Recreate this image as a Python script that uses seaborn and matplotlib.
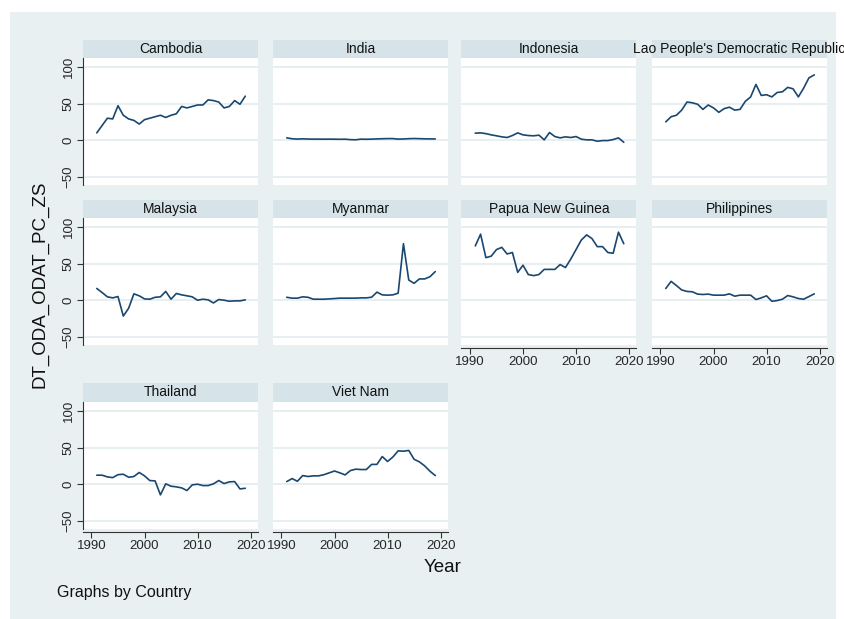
# ODA received per capita (DT_ODA_ODAT_PC_ZS), small multiples by country
# Stata-style "by(Country)" layout redrawn with seaborn line plots

import pandas as pd
import seaborn as sns
import matplotlib.pyplot as plt
from matplotlib.patches import Rectangle

# Data (1991-2019)
years = list(range(1991, 2020))
cambodia = [10, 20, 30, 29, 47, 34, 29, 27, 22, 28, 30, 32, 34, 31, 34, 36, 46, 44, 46, 48,
            48, 55, 54, 52, 44, 46, 54, 49, 60]
india = [3.2, 2.0, 1.6, 1.9, 1.6, 1.5, 1.5, 1.4, 1.5, 1.4, 1.3, 1.4, 0.8, 0.6, 1.5, 1.3,
         1.5, 1.8, 2.0, 2.2, 2.2, 1.5, 1.7, 2.1, 2.3, 2.1, 1.9, 1.8, 1.7]
indonesia = [9.6, 10, 9, 7.3, 6, 4.6, 3.7, 6.4, 10, 7.3, 6.4, 6, 6.9, 0.5, 10.5, 5, 3.2,
             4.6, 3.7, 5, 1.4, 0.5, 0.5, -1.4, -0.5, -0.5, 0.9, 3.2, -2.8]
lao = [25, 32, 34, 41, 52, 51, 49, 42, 48, 44, 38, 43, 45, 41, 42, 53, 59, 76, 61, 62,
       59, 65, 66, 72, 70, 59, 71, 85, 89]
malaysia = [16, 10.5, 4.6, 3.2, 5, -21.6, -11, 8.7, 6, 1.8, 1.4, 4, 4.6, 12, 1.4, 9.2, 7.3,
            6, 4.6, 0, 1.4, 0.5, -3.7, 0.9, 0, -1.4, -0.9, -0.9, 0.5]
myanmar = [4, 2.8, 2.8, 4.6, 4, 1.4, 1.4, 1.4, 1.8, 2.3, 2.8, 2.8, 2.8, 2.8, 3.2, 3.2, 4.1,
           11, 7.3, 6.9, 7.3, 9.6, 77, 27.5, 23, 29, 29, 32, 39]
png = [74, 90, 58, 60, 69, 72, 63, 65, 38, 47.7, 35, 33.5, 35, 42, 42, 42, 48.6, 44.5, 56,
       69, 82, 89, 84, 73, 73, 65, 64, 92.7, 77]
philippines = [16, 25.7, 20, 14, 12, 11.5, 8.3, 7.8, 8.3, 6.9, 6.9, 6.9, 8.7, 5.5, 6.9, 6.9,
               6.9, 0.9, 3.2, 6, -1.4, -0.5, 1.4, 6.4, 4.6, 2.3, 1.4, 5, 8.7]
thailand = [12.3, 12.3, 10, 9, 13, 13.6, 9.5, 10.5, 16, 11.4, 5, 4.5, -14.5, 0.5, -2.7,
            -3.6, -5, -8.6, -0.9, 0, -1.8, -1.8, 0.5, 5, 0.9, 3.2, 3.6, -6.4, -5.5]
vietnam = [3.6, 7.7, 4, 11.8, 10.5, 11.4, 11.4, 13, 15.5, 18, 15.5, 12.7, 18.6, 20.5, 20, 20,
           27, 27, 37.7, 31, 37, 45.5, 45, 46, 34, 30.5, 25, 17.7, 11.8]

countries = ["Cambodia", "India", "Indonesia", "Lao People's Democratic Republic",
             "Malaysia", "Myanmar", "Papua New Guinea", "Philippines",
             "Thailand", "Viet Nam"]
series = [cambodia, india, indonesia, lao, malaysia, myanmar, png, philippines,
          thailand, vietnam]

df = pd.concat([pd.DataFrame({"Country": c, "Year": years, "DT_ODA_ODAT_PC_ZS": v})
                for c, v in zip(countries, series)], ignore_index=True)

# Styling
sns.set_style("white")
plt.rcParams["font.family"] = ["Liberation Sans", "DejaVu Sans"]

bg = "#E8F0F1"
strip = "#D6E3E8"
navy = "#1A476F"
axis_col = "#333333"

W, H = 845, 619
fig = plt.figure(figsize=(W / 100, H / 100), dpi=100)
# light graph region behind everything (white margin at top/left/right)
fig.add_artist(Rectangle((10 / W, 0), 826 / W, (H - 12) / H, transform=fig.transFigure,
                         facecolor=bg, edgecolor="none", zorder=-10))

col_left = [83, 273, 461.5, 652]
panel_w = 175
strip_top = [40, 200, 383]
plot_top = [58, 218, 402]
plot_h = 127
with_xaxis = {"Papua New Guinea", "Philippines", "Thailand", "Viet Nam"}

for i, country in enumerate(countries):
    r, c = divmod(i, 4)
    x0 = col_left[c]

    # header strip
    sax = fig.add_axes([x0 / W, 1 - plot_top[r] / H, panel_w / W,
                        (plot_top[r] - strip_top[r]) / H])
    sax.set_facecolor(strip)
    sax.set_xticks([])
    sax.set_yticks([])
    for s in sax.spines.values():
        s.set_visible(False)
    sax.text(0.5, 0.5, country, ha="center", va="center", fontsize=10,
             color="#111111", clip_on=False)

    # plot panel
    ax = fig.add_axes([x0 / W, 1 - (plot_top[r] + plot_h) / H, panel_w / W, plot_h / H])
    ax.set_facecolor("white")
    sns.lineplot(data=df[df["Country"] == country], x="Year", y="DT_ODA_ODAT_PC_ZS",
                 ax=ax, color=navy, linewidth=1.2)
    ax.set_xlim(1988.4, 2021.4)
    ax.set_ylim(-61, 112)
    ax.set_xticks([1990, 2000, 2010, 2020])
    ax.set_yticks([-50, 0, 50, 100])
    ax.grid(axis="y", color="#E6EEF0", linewidth=1.3)
    ax.grid(axis="x", visible=False)
    ax.set_xlabel("")
    ax.set_ylabel("")
    ax.spines["top"].set_visible(False)
    ax.spines["right"].set_visible(False)

    if c == 0:
        ax.spines["left"].set_color(axis_col)
        ax.spines["left"].set_linewidth(0.8)
        ax.tick_params(axis="y", left=True, length=4, width=0.8, color=axis_col,
                       labelsize=9.5, labelrotation=90, pad=2)
        for lab in ax.get_yticklabels():
            lab.set_va("center")
    else:
        ax.spines["left"].set_visible(False)
        ax.tick_params(axis="y", left=False, labelleft=False)

    if country in with_xaxis:
        ax.spines["bottom"].set_color(axis_col)
        ax.spines["bottom"].set_linewidth(0.8)
        ax.spines["bottom"].set_position(("outward", 2))
        ax.tick_params(axis="x", bottom=True, length=4, width=0.8, color=axis_col,
                       labelsize=9.5, pad=2)
    else:
        ax.spines["bottom"].set_visible(False)
        ax.tick_params(axis="x", bottom=False, labelbottom=False)

# Figure-level labels
fig.text(40 / W, 1 - 284 / H, "DT_ODA_ODAT_PC_ZS", rotation=90, ha="center", va="center",
         fontsize=13.5, color="#111111")
fig.text(443 / W, 1 - 568 / H, "Year", ha="center", va="center", fontsize=13.5,
         color="#111111")
fig.text(57 / W, 1 - 592 / H, "Graphs by Country", ha="left", va="center", fontsize=11.5,
         color="#111111")

fig.savefig("out.png", dpi=100, facecolor="white")
